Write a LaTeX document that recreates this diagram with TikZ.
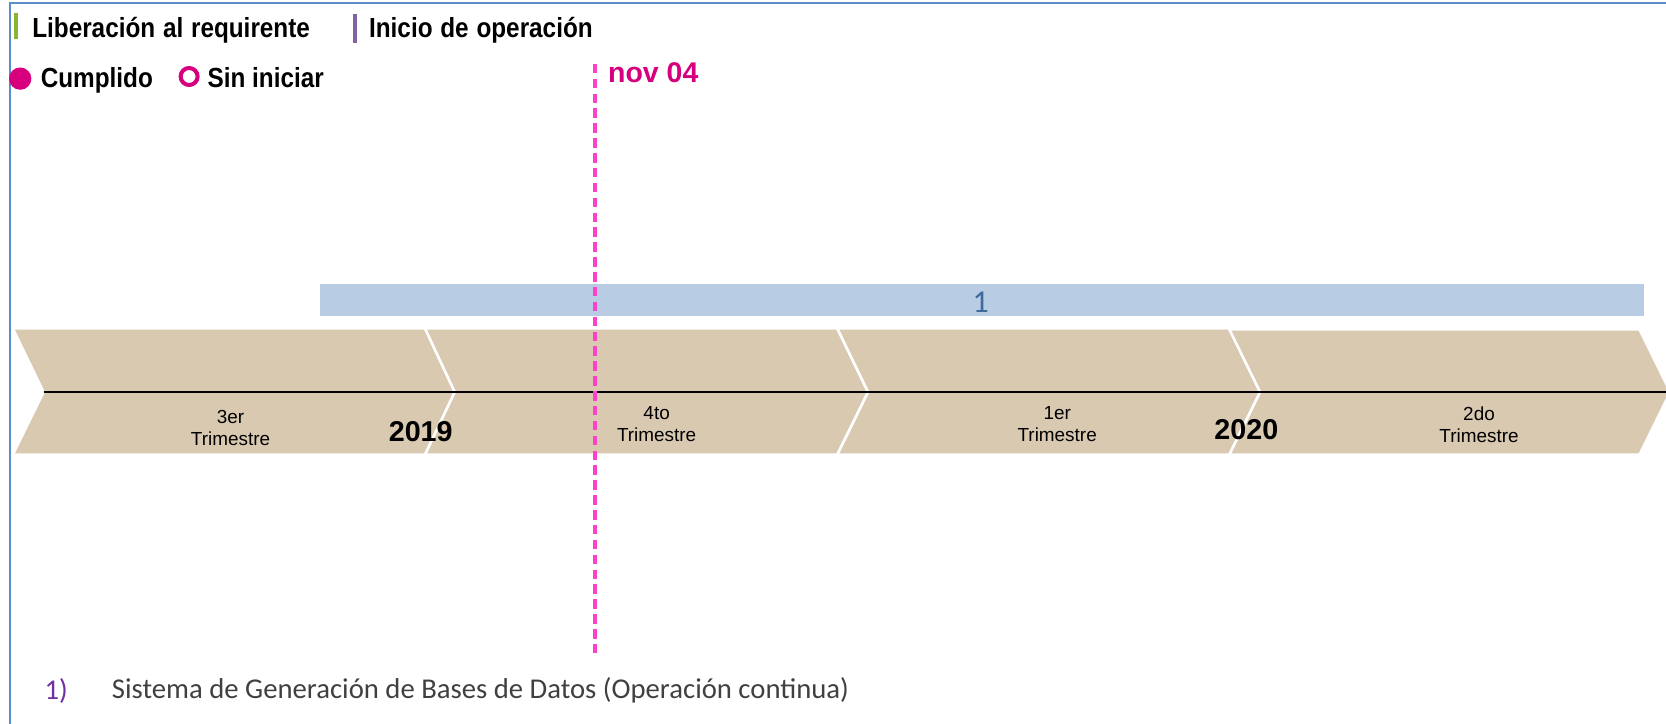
\documentclass[tikz,border=0pt]{standalone}
\usepackage{fontspec}
\setmainfont{Liberation Sans}
\newfontfamily\calibri{Carlito}
\definecolor{tan}{RGB}{217,201,177}
\definecolor{barblue}{RGB}{184,204,228}
\definecolor{onetxt}{RGB}{62,106,158}
\definecolor{frameblue}{RGB}{91,140,205}
\definecolor{legGreen}{RGB}{140,180,50}
\definecolor{legPurple}{RGB}{128,100,162}
\definecolor{mag}{RGB}{214,0,127}
\definecolor{pinkdash}{RGB}{255,64,200}
\definecolor{numpurple}{RGB}{112,48,160}
\definecolor{bodygray}{RGB}{64,64,64}
\begin{document}
\begin{tikzpicture}[x=0.5pt,y=-0.5pt,
  chev/.style={fill=tan,draw=white,line width=1.2pt,line join=miter},
  legtxt/.style={inner sep=0pt,anchor=base west,font=\fontsize{13}{15}\selectfont\bfseries},
  qtxt/.style={align=center,inner sep=0pt,font=\fontsize{8.9}{10.5}\selectfont},
  yeartxt/.style={inner sep=0pt,font=\fontsize{13.5}{16}\selectfont\bfseries},
  legbar/.style={line width=1.6pt}]
\useasboundingbox (0,0) rectangle (1568,680.5);
% frame
\draw[frameblue,line width=1pt] (9,681) -- (9,3) -- (1568,3);
% legend
\draw[legbar,legGreen] (15,12) -- (15,37);
\node[legtxt] (lib) at (30,35) {\scalebox{0.88}[1]{Liberación\hspace{0.32em}al\hspace{0.32em}requirente}};
\draw[legbar,legPurple] (334,13) -- (334,40);
\node[legtxt] (ini) at (347,35) {\scalebox{0.88}[1]{Inicio\hspace{0.32em}de\hspace{0.32em}operación}};
\fill[mag] (19,74) circle (10.5);
\node[legtxt] (cum) at (38,82) {\scalebox{0.88}[1]{Cumplido}};
\draw[mag,line width=1.9pt] (178,72) circle (8);
\node[legtxt] (sin) at (195,82) {\scalebox{0.88}[1]{Sin iniciar}};
% blue bar
\fill[barblue] (301,267) rectangle (1547,297);
\node[inner sep=0pt,text=onetxt,font=\calibri\fontsize{15}{17}\selectfont] (one) at (923,284) {1};
% chevrons
\draw[chev] (12,309) -- (400,309) -- (428,369) -- (400,428) -- (12,428) -- (41,369) -- cycle;
\draw[chev] (400,309) -- (788,309) -- (817,369) -- (788,428) -- (400,428) -- (428,369) -- cycle;
\draw[chev] (788,309) -- (1157,309) -- (1186,369) -- (1157,428) -- (788,428) -- (817,369) -- cycle;
\draw[chev] (1157,310) -- (1543,310) -- (1572,369) -- (1543,428) -- (1157,428) -- (1186,369) -- cycle;
\coordinate (axisL) at (41,369);
\coordinate (axisR) at (1568,369);
\draw[black,line width=1.3pt] (axisL) -- (axisR);
% quarter labels
\node[qtxt] (q3) at (217,403) {3er\\Trimestre};
\node[qtxt] (q4) at (618,399) {4to\\Trimestre};
\node[qtxt] (q1) at (995,399) {1er\\Trimestre};
\node[qtxt] (q2) at (1392,400) {2do\\Trimestre};
\node[yeartxt] (y19) at (396,406) {2019};
\node[yeartxt] (y20) at (1173,404) {2020};
% today line
\coordinate (dTop) at (560,60);
\coordinate (dBot) at (560,618);
\draw[pinkdash,line width=1.5pt,dash pattern=on 4.5pt off 2.5pt] (dTop) -- (dBot);
\node[inner sep=0pt,anchor=base west,text=mag,font=\fontsize{13.4}{16}\selectfont\bfseries] (nov) at (572,78) {nov 04};
% footnote
\node[inner sep=0pt,text=numpurple,font=\calibri\fontsize{13.5}{16}\selectfont] (n1) at (53,650) {1)};
\node[inner sep=0pt,anchor=west,text=bodygray,font=\calibri\fontsize{13.5}{16}\selectfont] (desc) at (105,650) {Sistema de Generación de Bases de Datos (Operación continua)};
\end{tikzpicture}
\end{document}
